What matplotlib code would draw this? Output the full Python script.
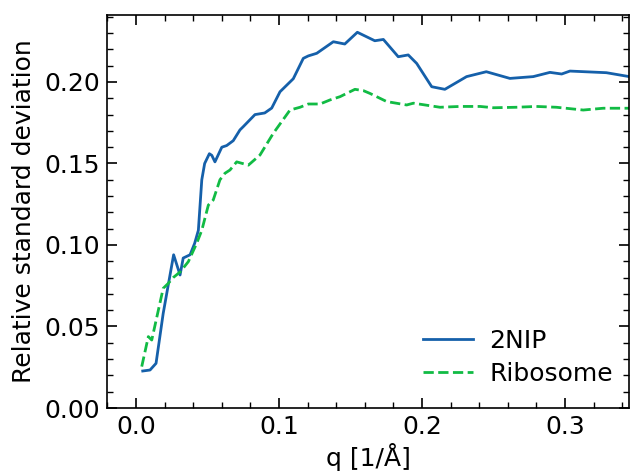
import matplotlib
matplotlib.use("Agg")
import matplotlib.pyplot as plt
from matplotlib.ticker import MultipleLocator

# 2NIP series
q_2nip = [0.0047, 0.0098, 0.014, 0.019, 0.0263, 0.0308, 0.033, 0.0378, 0.041, 0.0436,
          0.046, 0.048, 0.0513, 0.053, 0.0552, 0.060, 0.0634, 0.068, 0.0727, 0.075,
          0.0832, 0.090, 0.0949, 0.1007, 0.110, 0.117, 0.1205, 0.1264, 0.138, 0.146,
          0.1548, 0.167, 0.173, 0.1834, 0.1904, 0.1963, 0.2068, 0.216, 0.2312, 0.245,
          0.2615, 0.2778, 0.2895, 0.2977, 0.3035, 0.329, 0.345]
rsd_2nip = [0.0227, 0.0233, 0.0274, 0.058, 0.094, 0.0816, 0.092, 0.094, 0.101, 0.109,
            0.140, 0.150, 0.156, 0.155, 0.151, 0.160, 0.161, 0.164, 0.1706, 0.1726,
            0.180, 0.181, 0.184, 0.194, 0.202, 0.2145, 0.216, 0.2176, 0.2247, 0.2233,
            0.2305, 0.2253, 0.2261, 0.2155, 0.2166, 0.2114, 0.1971, 0.1955, 0.2033, 0.2063,
            0.2022, 0.2033, 0.2059, 0.2049, 0.2067, 0.2057, 0.2033]

# Ribosome series
q_ribo = [0.004, 0.0086, 0.011, 0.019, 0.0226, 0.026, 0.031, 0.0366, 0.0424, 0.046,
          0.0506, 0.054, 0.0587, 0.0622, 0.0657, 0.0704, 0.0786, 0.0867, 0.096, 0.1077,
          0.1147, 0.1205, 0.1287, 0.1357, 0.1427, 0.1531, 0.159, 0.1636, 0.1753, 0.1893,
          0.194, 0.2126, 0.2266, 0.2406, 0.25, 0.266, 0.280, 0.294, 0.3128, 0.3268, 0.345]
rsd_ribo = [0.0254, 0.0438, 0.0417, 0.0734, 0.0765, 0.080, 0.0836, 0.0898, 0.101, 0.109,
            0.1245, 0.1276, 0.140, 0.144, 0.146, 0.151, 0.149, 0.1552, 0.1685, 0.1828,
            0.1845, 0.1865, 0.1865, 0.189, 0.191, 0.1955, 0.1947, 0.193, 0.188, 0.1859,
            0.187, 0.1845, 0.185, 0.185, 0.1842, 0.1845, 0.185, 0.1845, 0.1828, 0.1839, 0.1839]

labels = ["2NIP", "Ribosome"]
xlabel = "q [1/Å]"
ylabel = "Relative standard deviation"

FS = 18
plt.rcParams['font.family'] = ['DejaVu Sans']
fig = plt.figure(figsize=(6.3, 4.73), dpi=100)
ax = fig.add_axes([107/630, 1-408/473, (629-107)/630, (408-15)/473])

ax.plot(q_2nip, rsd_2nip, color='#1560aa', lw=2.0, label=labels[0])
ax.plot(q_ribo, rsd_ribo, color='#11bb44', lw=2.0, ls='--', label=labels[1])

ax.set_xlim(-0.0203, 0.3448)
ax.set_ylim(0, 0.2411)
ax.xaxis.set_major_locator(MultipleLocator(0.1))
ax.xaxis.set_minor_locator(MultipleLocator(0.02))
ax.yaxis.set_major_locator(MultipleLocator(0.05))
ax.yaxis.set_minor_locator(MultipleLocator(0.01))
ax.tick_params(which='both', direction='in', top=True, right=True, labelsize=FS)
ax.tick_params(which='major', length=7, width=1.2, pad=5)
ax.tick_params(which='minor', length=4, width=1.0)
for s in ax.spines.values():
    s.set_linewidth(1.2)

ax.set_xlabel(xlabel, fontsize=FS, labelpad=3)
ax.set_ylabel(ylabel, fontsize=FS, labelpad=6)
ax.legend(loc='lower right', bbox_to_anchor=(1.012, 0.0), frameon=False, fontsize=FS,
          handlelength=2.0, handletextpad=0.65, labelspacing=0.35)

fig.savefig("out.png", dpi=100)
